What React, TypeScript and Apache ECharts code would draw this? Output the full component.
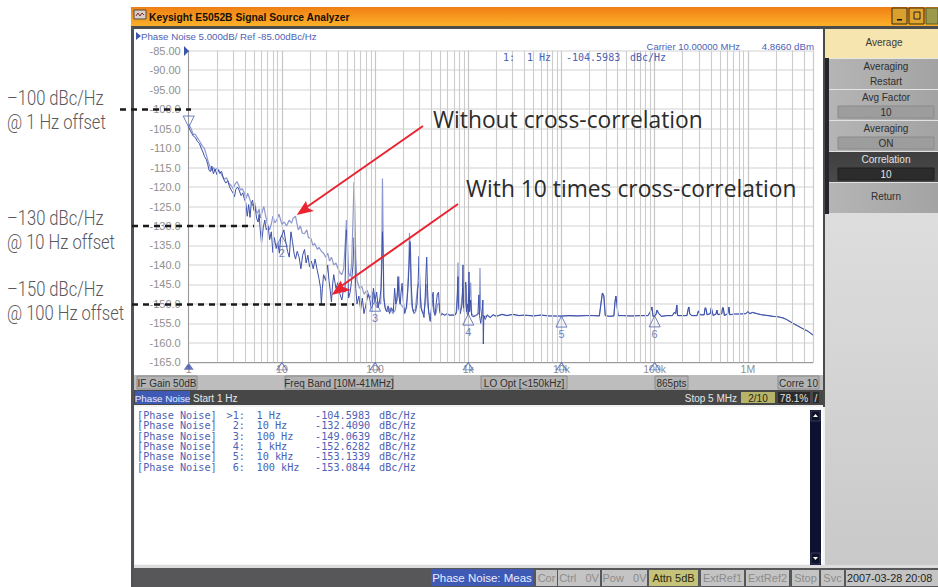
import React, { useEffect, useRef } from "react";
import * as echarts from "echarts";

const yMin = -165;
const yMax = -85;
const xMin = 1;
const xMax = 5000000;
const xTickLabels: Record<string, string> = { "1": "1", "10": "10", "100": "100", "1000": "1k", "10000": "10k", "100000": "100k", "1000000": "1M" };
const minorFreqs = [
  2, 3, 4, 5, 6, 7, 8, 9, 20, 30, 40, 50, 60, 70, 80, 90, 200, 300, 400, 500, 600, 700, 800, 900,
  2000, 3000, 4000, 5000, 6000, 7000, 8000, 9000, 20000, 30000, 40000, 50000, 60000, 70000, 80000, 90000,
  200000, 300000, 400000, 500000, 600000, 700000, 800000, 900000, 2000000, 3000000, 4000000,
];

// Without cross-correlation (lighter trace)
const withoutLow: [number, number][] = [[1,-103.8],[1.06,-105],[1.12,-106.5],[1.18,-106.5],[1.25,-107.5],[1.33,-108.5],[1.4,-109.5],[1.47,-110],[1.55,-111.8],[1.62,-113.5],[1.7,-115],[1.78,-115.8],[1.85,-115],[1.93,-115.6],[2,-115.2],[2.1,-115.6],[2.2,-116.4],[2.3,-117.2],[2.42,-118],[2.55,-117.6],[2.7,-119],[2.85,-119.6],[3,-120.4],[3.15,-119.2],[3.3,-118.6],[3.45,-119.6],[3.6,-120.8],[3.75,-120.4],[3.95,-121.5],[4.1,-123],[4.3,-121.6],[4.5,-123],[4.7,-124.2],[4.9,-124.8],[5.1,-124],[5.3,-126],[5.5,-126.8],[5.7,-125.6],[5.9,-128],[6.1,-126.6],[6.4,-125],[6.7,-127.5],[7,-129.5],[7.4,-131],[7.7,-129.5],[8,-127.5],[8.4,-129.2],[8.8,-128.5],[9.3,-127],[9.7,-128.5]];
const withoutMid: [number, number][] = [[10,-129.6],[10.6,-129],[11.2,-130],[12,-128.5],[12.7,-129.3],[13.2,-128],[14,-127.5],[14.4,-129],[15,-131],[15.8,-130],[16.5,-131.8],[17.5,-132],[18.5,-131],[19.3,-133],[20.5,-133.2],[21.5,-135],[22.5,-134.5],[24,-136],[25,-135.5],[26.5,-136.5],[28,-137],[29.5,-138],[31,-137],[32.5,-139],[34,-138],[36,-140],[38,-139.5],[40,-141],[42,-142],[44,-142.5],[46,-141],[48,-134],[49.2,-128.5],[50.5,-134],[52,-142],[54,-143],[56,-140],[58,-128],[59.4,-118.7],[60.5,-125],[62,-138],[64,-144],[68,-146],[72,-145.5],[76,-147.5],[82,-146.5],[88,-148.5],[94,-147]];
const withoutHigh: [number, number][] = [[100,-150],[105,-151],[110,-149.5],[115,-150],[118,-136],[120,-117.8],[122,-133],[124,-149],[130,-151.5],[138,-152],[146,-151],[155,-152.5],[165,-151.5],[176,-146],[180,-143],[185,-150],[195,-150.5],[205,-151.5],[218,-151],[228,-142],[234,-131.8],[240,-140],[246,-150],[255,-152],[270,-151.5],[285,-146],[298,-144.5],[306,-148],[318,-152],[332,-152.5],[345,-150],[355,-145],[365,-150],[380,-152.5],[395,-153],[415,-149],[430,-152],[450,-152.5],[470,-150],[490,-150],[510,-152.5],[550,-152.8],[600,-152.6],[680,-153],[740,-152.5],[765,-148],[775,-139.4],[785,-150],[820,-152.5],[860,-148],[880,-146],[900,-152],[930,-150],[950,-145],[970,-152.5],[1000,-153],[1040,-147],[1060,-144.5],[1085,-152.5],[1150,-153.2],[1260,-152.8],[1320,-152],[1335,-140.8],[1355,-151],[1400,-153],[1500,-153.3],[1600,-153]];

// With 10 times cross-correlation (darker trace)
const withLow: [number, number][] = [[1,-104.6],[1.04,-105.5],[1.08,-106.3],[1.13,-107],[1.18,-107.3],[1.24,-108.3],[1.3,-108.8],[1.36,-110],[1.42,-111],[1.48,-112.2],[1.55,-113],[1.6,-114.2],[1.66,-115.8],[1.72,-116],[1.77,-114.6],[1.84,-116.6],[1.92,-115.4],[2,-116.8],[2.07,-115.6],[2.15,-116.5],[2.25,-116],[2.37,-118],[2.5,-119],[2.62,-118.4],[2.75,-120],[2.9,-121],[3,-121.6],[3.1,-122.5],[3.2,-120.6],[3.35,-120],[3.5,-121],[3.65,-122.2],[3.8,-121.5],[3.95,-123],[4.1,-124],[4.25,-127.5],[4.4,-124.5],[4.55,-127.8],[4.7,-124],[4.85,-123.4],[5,-126],[5.15,-125],[5.35,-128],[5.55,-129],[5.7,-127],[5.85,-131],[6.05,-134.5],[6.3,-130.5],[6.55,-128.5],[6.8,-131],[7.1,-130],[7.4,-133.5],[7.7,-131.5],[8,-136.8],[8.3,-133],[8.7,-135.8],[9,-134],[9.4,-137],[9.7,-133]];
const withMid: [number, number][] = [[10,-132.4],[10.5,-131],[11,-134],[11.5,-136.5],[12,-138],[12.5,-131.5],[13,-134],[13.5,-137],[14,-138.5],[14.6,-136.5],[15.3,-138],[16,-141],[16.7,-137.5],[17.5,-136],[18.2,-139.5],[19,-137.5],[19.8,-140.5],[20.7,-139],[21.7,-141],[22.7,-138.5],[24,-141.5],[25,-143.5],[26,-146],[26.5,-150],[27.2,-146],[28,-142.5],[29.5,-144],[31,-140],[32,-144],[33,-146.5],[34,-149.5],[35,-145],[36,-142.5],[38,-146],[40,-144.5],[42,-147.5],[44,-149],[46,-146],[47.5,-147],[48.5,-135],[49.2,-131],[50,-133],[51,-142],[52,-148.5],[54,-147],[56,-144],[58,-140],[59.5,-133],[60.5,-136],[62,-146],[64,-150],[67,-148],[70,-151.5],[73,-148.5],[76,-152.5],[80,-150],[84,-147.5],[88,-149],[92,-152],[96,-146]];
const withHigh: [number, number][] = [[100,-149.1],[104,-147],[108,-151],[112,-149],[116,-146],[118,-140],[120,-131.5],[122,-138],[124,-148],[128,-151],[133,-152],[138,-150.5],[143,-152.5],[150,-151],[157,-152],[162,-146],[167,-150],[172,-149],[176,-143],[180,-148],[186,-150],[190,-147],[195,-144.7],[200,-149],[208,-152.5],[216,-151],[224,-147],[232,-140],[237,-134],[240,-136],[244,-145],[252,-151],[262,-152.5],[272,-152],[282,-150],[290,-144],[296,-137.8],[303,-145],[310,-151],[322,-152],[335,-153.5],[345,-148],[352,-142],[358,-138],[365,-146],[375,-152],[390,-154.5],[400,-152],[412,-148],[420,-147],[428,-152],[440,-153],[452,-150],[466,-147.5],[480,-147],[492,-152],[510,-153],[530,-152.5],[560,-153],[590,-152.5],[630,-153],[670,-152.8],[720,-153],[750,-152],[770,-145],[776,-143],[785,-151],[820,-152.5],[860,-150],[878,-140],[890,-151],[920,-146],[940,-144.4],[955,-152],[985,-150],[1000,-152.6],[1017,-141.8],[1035,-152],[1060,-149],[1085,-153],[1130,-153.3],[1200,-153],[1270,-152.5],[1300,-147.7],[1320,-153],[1360,-155],[1410,-152],[1435,-149],[1450,-160.3],[1470,-153],[1520,-154],[1600,-152.8]];

// Both traces coincide above about 1.7 kHz
const upperBand: [number, number][] = [[1720,-153.5],[1850,-152.8],[2000,-153.2],[2300,-152.7],[2600,-153],[3000,-152.7],[3500,-153],[4000,-152.9],[5000,-153.1],[6000,-152.9],[7500,-153.1],[10000,-153.13],[12000,-153],[15000,-153.1],[18000,-153],[22000,-153],[25500,-153.1],[26500,-150],[27500,-147.2],[28500,-148],[29500,-153],[33000,-153.2],[36500,-153.1],[37500,-149.5],[38400,-148],[39300,-150],[40500,-153],[46000,-153],[55000,-153.1],[70000,-153],[85000,-153],[90000,-152],[93500,-150.8],[96000,-153.2],[100000,-153.08],[103000,-152.8],[106000,-151.6],[110000,-152.4],[118000,-153.2],[135000,-153],[155000,-153],[162000,-152.2],[168000,-152.5],[173000,-150.3],[176000,-153],[200000,-153],[222000,-153],[228000,-151.5],[233000,-150.8],[238000,-152.6],[250000,-153],[285000,-153],[295000,-151.8],[300000,-152.3],[310000,-152.8],[340000,-152.8],[348000,-151],[355000,-151.2],[365000,-152.8],[395000,-152.5],[405000,-151],[412000,-151],[425000,-153],[455000,-152.6],[466000,-151.6],[478000,-152.8],[525000,-152.5],[535000,-151],[545000,-151],[560000,-153],[610000,-152.5],[627000,-150.8],[640000,-152.8],[720000,-152.6],[820000,-152.6],[950000,-152.5],[1000000,-152],[1050000,-152.5],[1120000,-152.2],[1250000,-152.5],[1400000,-152.8],[1650000,-153],[1860000,-153.2],[2100000,-153.3],[2380000,-153.6],[2600000,-154],[3050000,-155],[3400000,-155.6],[3900000,-156.4],[4400000,-157],[5000000,-158]];

const markerFreqs = [1, 10, 100, 1000, 10000, 100000];
const markerDb = [-104.5983, -132.409, -149.0639, -152.6282, -153.1339, -153.0844];
const markerRows = [
  [">1:", "1 Hz", "-104.5983"],
  ["2:", "10 Hz", "-132.4090"],
  ["3:", "100 Hz", "-149.0639"],
  ["4:", "1 kHz", "-152.6282"],
  ["5:", "10 kHz", "-153.1339"],
  ["6:", "100 kHz", "-153.0844"],
];

const softkeys = [
  { a: "Averaging", b: "Restart", box: false, dark: false },
  { a: "Avg Factor", b: "10", box: true, dark: false },
  { a: "Averaging", b: "ON", box: true, dark: false },
  { a: "Correlation", b: "10", box: true, dark: true },
  { a: "Return", b: "", box: false, dark: false },
];
const statusBoxes = [
  { t: "Cor", x: 536, w: 21, fg: "#8c8c8c", bg: "#c4c4c4" },
  { t: "Ctrl   0V", x: 558, w: 42, fg: "#8c8c8c", bg: "#c4c4c4" },
  { t: "Pow   0V", x: 602, w: 45, fg: "#8c8c8c", bg: "#c4c4c4" },
  { t: "Attn 5dB", x: 649, w: 49, fg: "#2a2a10", bg: "#c5c27a" },
  { t: "ExtRef1", x: 701, w: 43, fg: "#8c8c8c", bg: "#c4c4c4" },
  { t: "ExtRef2", x: 746, w: 43, fg: "#8c8c8c", bg: "#c4c4c4" },
  { t: "Stop", x: 792, w: 27, fg: "#8c8c8c", bg: "#c4c4c4" },
  { t: "Svc", x: 821, w: 23, fg: "#8c8c8c", bg: "#c4c4c4" },
];
const leftNotes = [
  { a: "–100 dBc/Hz", b: "@ 1 Hz offset", y: 98 },
  { a: "–130 dBc/Hz", b: "@ 10 Hz offset", y: 218 },
  { a: "–150 dBc/Hz", b: "@ 100 Hz offset", y: 289 },
];

const BLUE = "#4d62b4";
const UI = '"Liberation Sans", Arial, sans-serif';
const MONO = '"DejaVu Sans Mono", monospace';

const grad = (a: string, b: string, h = false) => ({
  type: "linear", x: 0, y: 0, x2: h ? 1 : 0, y2: h ? 0 : 1,
  colorStops: [{ offset: 0, color: a }, { offset: 1, color: b }],
});
const rect = (x: number, y: number, w: number, h: number, fill: any, z = -10, extra: any = {}) => ({
  type: "rect", silent: true, z, shape: { x, y, width: w, height: h }, style: { fill, ...extra },
});
const text = (x: number, y: number, t: string, fill: string, size = 9.7, align = "left", font = UI, z = 50, weight: any = "normal") => ({
  type: "text", silent: true, z, x, y,
  style: { text: t, fill, fontSize: size, fontFamily: font, fontWeight: weight, align, verticalAlign: "middle" },
});
const dash = (x1: number, y: number, x2: number) => ({
  type: "line", silent: true, z: 60, shape: { x1, y1: y, x2, y2: y },
  style: { stroke: "#1a1a1a", lineWidth: 2.6, lineDash: [6, 5] },
});
const arrowLine = (x1: number, y1: number, x2: number, y2: number) => ({
  type: "line", silent: true, z: 61, shape: { x1, y1, x2, y2 }, style: { stroke: "#ea2330", lineWidth: 2 },
});
const arrowHead = (points: number[][]) => ({
  type: "polygon", silent: true, z: 62, shape: { points }, style: { fill: "#ea2330" },
});
const chip = (x: number, y: number, w: number, h: number, t: string) => [
  rect(x, y, w, h, "#b3b3b3", -5, { stroke: "#8a8a8a", lineWidth: 1 }),
  text(x + w / 2, y + h / 2 + 0.5, t, "#2e2e2e", 10, "center"),
];

function chrome(): any[] {
  const g: any[] = [];
  // window
  g.push(rect(131, 7, 807, 580, "#d8d8d8", -20));
  g.push(rect(131, 7, 807, 20, grad("#f07f14", "#fdb32a"), -10));
  g.push(rect(131, 26, 807, 3, "#4d4d4d", -9));
  g.push(rect(134, 10, 12, 9, "#d8cfc8", -8, { stroke: "#554a40", lineWidth: 1 }));
  g.push({ type: "polyline", silent: true, z: -7, shape: { points: [[136, 16], [138, 13], [140, 16], [142, 13], [144, 15]] }, style: { stroke: "#8a2a2a", lineWidth: 1, fill: "none" } });
  g.push(text(149, 17, "Keysight E5052B Signal Source Analyzer", "#161006", 10.3, "left", UI, 50, "bold"));
  g.push(rect(892, 8, 15, 16, "#d9a030", -8, { stroke: "#3a2a10", lineWidth: 1 }));
  g.push(rect(897, 19, 5, 1.5, "#111", -7));
  g.push(rect(909, 8, 15, 16, "#e0a530", -8, { stroke: "#3a2a10", lineWidth: 1 }));
  g.push(rect(914, 12, 6, 7, "none", -7, { stroke: "#222", lineWidth: 1 }));
  g.push(rect(926, 8, 12, 16, "#9c9a4a", -8, { stroke: "#5a5a30", lineWidth: 1 }));
  // frame
  g.push(rect(131, 27, 3, 560, "#50545a", -9));
  // plot panel
  g.push(rect(134, 29, 689, 346, "#ffffff", -9));
  g.push(rect(823, 27, 2, 380, "#4a4a4a", -8));
  g.push({ type: "polygon", silent: true, z: 40, shape: { points: [[136, 32], [136, 40], [141, 36]] }, style: { fill: "#3d56ad" } });
  g.push(text(141, 36.5, "Phase Noise 5.000dB/ Ref -85.00dBc/Hz", BLUE));
  g.push(text(740, 46, "Carrier 10.00000 MHz", BLUE, 9.5, "right"));
  g.push(text(814, 46, "4.8660 dBm", BLUE, 9.7, "right"));
  g.push(text(503, 57, "1:", BLUE, 10, "left", MONO));
  g.push(text(527, 57, "1 Hz", BLUE, 10, "left", MONO));
  g.push(text(566, 57, "-104.5983", BLUE, 10, "left", MONO));
  g.push(text(630, 57, "dBc/Hz", BLUE, 10, "left", MONO));
  g.push({ type: "polygon", silent: true, z: 40, shape: { points: [[184, 46], [184, 56], [189, 51]] }, style: { fill: "#3d56ad" } });
  // strip under the plot
  g.push(rect(134, 375, 689, 15, "#bdbdbd", -9));
  g.push(...chip(137, 376, 60, 13, "IF Gain 50dB"));
  g.push(...chip(285, 376, 108, 13, "Freq Band [10M-41MHz]"));
  g.push(...chip(481, 376, 86, 13, "LO Opt [<150kHz]"));
  g.push(...chip(655, 376, 33, 13, "865pts"));
  g.push(...chip(778, 376, 41, 13, "Corre 10"));
  g.push(rect(134, 390, 691, 15, "#474747", -9));
  g.push(rect(135, 391, 55, 13, "#3f5ab4", -8));
  g.push(text(162.5, 398, "Phase Noise", "#e8ecff", 9.8, "center"));
  g.push(text(193, 398, "Start 1 Hz", "#e8e8e8", 10));
  g.push(text(737, 398, "Stop 5 MHz", "#e4e4e4", 10, "right"));
  g.push(rect(741, 392, 34, 11, "#b8b36a", -8));
  g.push(text(758, 398, "2/10", "#2a2a10", 10, "center"));
  g.push(rect(778, 392, 32, 11, "#2a2a2a", -8));
  g.push(text(794, 398, "78.1%", "#e4e4e4", 10, "center"));
  g.push(rect(813, 392, 6, 11, "#2a2a2a", -8));
  g.push(text(816, 398, "/", "#e4e4e4", 10, "center"));
  // marker table
  g.push(rect(134, 405, 691, 160, "#f2f2f2", -9));
  g.push(rect(135, 407, 688, 157, "#ffffff", -8));
  markerRows.forEach((r, i) => {
    const y = 415.3 + i * 10.35;
    g.push(text(137, y, "[Phase Noise]", BLUE, 10.2, "left", MONO));
    g.push(text(245, y, r[0], BLUE, 10.2, "right", MONO));
    g.push(text(256.5, y, r[1], BLUE, 10.2, "left", MONO));
    g.push(text(315, y, r[2], BLUE, 10.2, "left", MONO));
    g.push(text(379, y, "dBc/Hz", BLUE, 10.2, "left", MONO));
  });
  g.push(rect(810, 410, 11, 155, "#0e1030", -7));
  g.push(rect(811, 411, 9, 10, "#101226", -6, { stroke: "#5b6190", lineWidth: 0.5 }));
  g.push(rect(811, 553, 9, 11, "#101226", -6, { stroke: "#5b6190", lineWidth: 0.5 }));
  g.push({ type: "polygon", silent: true, z: -5, shape: { points: [[813, 417], [818, 417], [815.5, 414]] }, style: { fill: "#fff" } });
  g.push({ type: "polygon", silent: true, z: -5, shape: { points: [[813, 557], [818, 557], [815.5, 560]] }, style: { fill: "#fff" } });
  // soft keys
  g.push(rect(825, 29, 113, 541, grad("#e8e8e8", "#c9c9c9"), -9));
  g.push(rect(825, 29, 113, 29, "#f6e5ae", -8));
  g.push(text(884, 42.5, "Average", "#3a3a3a", 10, "center"));
  g.push(rect(825, 58, 4, 156, "#24262c", -7));
  softkeys.forEach((k, i) => {
    const y = 59 + i * 31;
    const h = 30;
    g.push(rect(829, y, 109, h, k.dark ? grad("#3f3f3f", "#4a4a4a") : grad("#b5b5b5", "#a3a3a3", true), -7));
    const fg = k.dark ? "#e4e4e4" : "#2e2e2e";
    if (k.b === "") {
      g.push(text(886, y + 13.5, k.a, fg, 10, "center"));
    } else {
      g.push(text(886, y + 7.5, k.a, fg, 10, "center"));
      if (k.box) g.push(rect(838, y + 16, 96, 12, k.dark ? "#2c2c2c" : "#9d9d9d", -6, { stroke: k.dark ? "#1e1e1e" : "#8a8a8a", lineWidth: 1 }));
      g.push(text(886, y + 22, k.b, fg, 10, "center"));
    }
  });
  // bottom status
  g.push(rect(134, 565, 804, 3, "#dddddd", -8));
  g.push(rect(134, 568, 804, 19, "#57575a", -7));
  g.push(rect(431, 569, 102, 17, "#3f5ab4", -6));
  g.push(text(482, 578, "Phase Noise: Meas", "#e8ecff", 11.5, "center"));
  statusBoxes.forEach((b) => {
    g.push(rect(b.x, 570, b.w, 16, b.bg, -6));
    g.push(text(b.x + b.w / 2, 578, b.t, b.fg, 11, "center"));
  });
  g.push(rect(846, 570, 92, 16, "#c4c4c4", -6));
  g.push(text(847, 578, "2007-03-28 20:08", "#1e1e1e", 10.8));
  return g;
}

function annotations(): any[] {
  const g: any[] = [];
  leftNotes.forEach((n) => {
    g.push({ ...text(7, n.y, n.a, "#58585a", 19.5, "left", "Roboto, sans-serif", 70, 300), scaleX: 0.85 });
    g.push({ ...text(7, n.y + 24, n.b, "#58585a", 19.5, "left", "Roboto, sans-serif", 70, 300), scaleX: 0.85 });
  });
  g.push(dash(120, 109.5, 191));
  g.push(dash(132, 226, 254));
  g.push(dash(132, 304.5, 354));
  g.push(arrowLine(423, 126, 304, 209));
  g.push(arrowHead([[296.7, 215], [306, 201], [308, 208], [314, 211]]));
  g.push(arrowLine(458, 204, 340, 287));
  g.push(arrowHead([[331.7, 295], [340.7, 280.7], [343, 286.7], [351, 290]]));
  g.push(text(433, 119, "Without cross-correlation", "#2b2b2b", 22.8, "left", '"Open Sans", sans-serif', 70));
  g.push(text(466, 188, "With 10 times cross-correlation", "#2b2b2b", 22.8, "left", '"Open Sans", sans-serif', 70));
  return g;
}

export default function App() {
  const ref = useRef<HTMLDivElement>(null);
  useEffect(() => {
    const chart = echarts.init(ref.current!, undefined, { renderer: "svg", width: 938, height: 587 });
    const hollow = { color: "rgba(255,255,255,0)", borderColor: "#4f63b2", borderWidth: 1 };
    chart.setOption({
      animation: false,
      backgroundColor: "#ffffff",
      graphic: { elements: [...chrome(), ...annotations()] },
      grid: { left: 188.7, top: 50.7, width: 624.3, height: 311.6, show: false },
      xAxis: {
        type: "log", logBase: 10, min: xMin, max: xMax,
        axisLine: { show: true, onZero: false, lineStyle: { color: "#9a9a9a", width: 1 } },
        axisTick: { show: false },
        axisLabel: {
          margin: 1, color: "#8f8f8f", fontSize: 10.5, fontFamily: UI, showMinLabel: true, showMaxLabel: false,
          formatter: (v: number) => xTickLabels[String(Math.round(v))] ?? "",
        },
        splitLine: { show: true, lineStyle: { color: "#c6c6c6", width: 1.2 } },
      },
      yAxis: {
        type: "value", min: yMin, max: yMax, interval: 5,
        axisLine: { show: true, onZero: false, lineStyle: { color: "#9a9a9a", width: 1 } },
        axisTick: { show: false },
        axisLabel: {
          margin: 8, color: "#8f8f8f", fontSize: 11, fontFamily: UI,
          formatter: (v: number) => (v > -100 ? v.toFixed(2) : v.toFixed(1)),
        },
        splitLine: { show: true, lineStyle: { color: "#e0e0e0", width: 1.6 } },
      },
      series: [
        {
          type: "line", silent: true, symbol: "none", data: [], z: 1,
          markLine: {
            silent: true, symbol: "none", label: { show: false }, animation: false,
            lineStyle: { color: "#cccccc", width: 1.1, type: "solid" },
            data: [...minorFreqs.map((v) => ({ xAxis: v })), { xAxis: xMax }],
          },
        },
        {
          name: "Without cross-correlation", type: "line", symbol: "none", silent: true, z: 3,
          lineStyle: { color: "#8c98cf", width: 1.2 },
          data: [...withoutLow, ...withoutMid, ...withoutHigh, ...upperBand],
        },
        {
          name: "With 10 times cross-correlation", type: "line", symbol: "none", silent: true, z: 4,
          lineStyle: { color: "#3d50a8", width: 1 },
          data: [...withLow, ...withMid, ...withHigh, ...upperBand],
        },
        {
          type: "scatter", silent: true, z: 5, clip: false, symbol: "triangle", symbolSize: [11, 11],
          itemStyle: hollow,
          data: markerFreqs.map((f, i) => ({
            value: [f, markerDb[i]],
            symbolRotate: i === 0 ? 180 : 0,
            symbolOffset: [0, i === 0 ? -5.5 : 5.5],
            label: {
              show: i > 0, position: "bottom", distance: 1, formatter: String(i + 1),
              color: "#4f63b2", fontSize: 11, fontFamily: UI,
            },
          })),
        },
        {
          type: "scatter", silent: true, z: 5, clip: false, symbol: "triangle", symbolSize: [10, 7], symbolOffset: [0, 4],
          data: markerFreqs.map((f, i) => ({
            value: [f, yMin],
            itemStyle: i === 0 ? { color: "#3d56ad" } : hollow,
          })),
        },
      ],
    });
    return () => chart.dispose();
  }, []);
  return <div ref={ref} style={{ position: "fixed", left: 0, top: 0, width: 938, height: 587 }} />;
}
